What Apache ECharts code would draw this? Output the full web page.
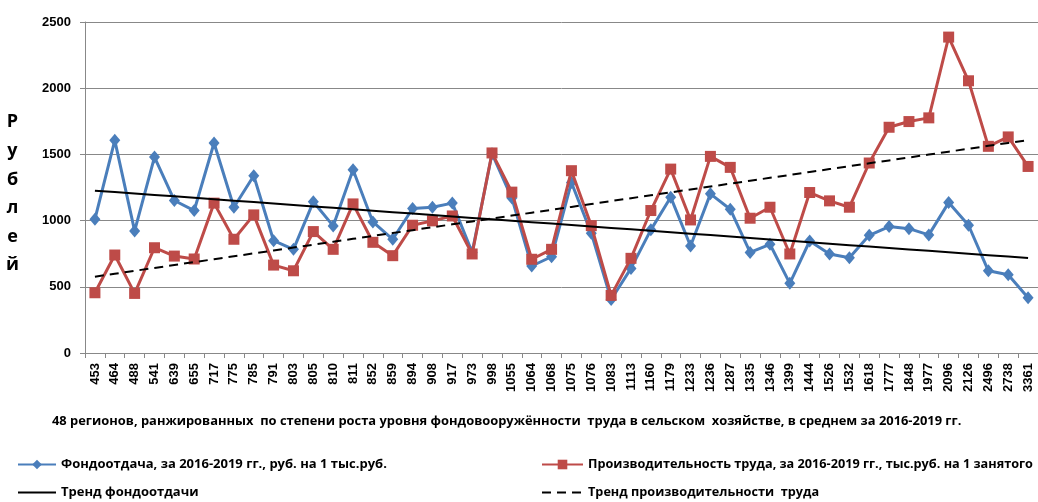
<!DOCTYPE html>
<html><head><meta charset="utf-8">
<script src="https://cdn.jsdelivr.net/npm/echarts@6/dist/echarts.min.js"></script>
<style>html,body{margin:0;padding:0;background:#fff}#c{width:1038px;height:502px}</style>
</head><body><div id="c"></div>
<script>
const categories = ['453','464','488','541','639','655','717','775','785','791','803','805','810','811','852','859','894','908','917','973','998','1055','1064','1068','1075','1076','1083','1113','1160','1179','1233','1236','1287','1335','1346','1399','1444','1526','1532','1618','1777','1848','1977','2096','2126','2496','2738','3361'];
const fondootdacha = [1011,1606,922,1480,1152,1076,1586,1101,1339,848,783,1142,960,1384,990,859,1091,1101,1132,760,1505,1170,657,727,1288,905,404,639,930,1177,808,1202,1086,760,821,526,846,748,720,889,955,939,892,1136,965,621,591,417];
const proizvod = [455,740,450,795,732,710,1132,859,1043,664,621,917,783,1126,836,735,965,998,1035,748,1511,1215,708,783,1377,962,435,715,1076,1389,1005,1485,1402,1018,1101,748,1212,1149,1101,1435,1705,1748,1776,2386,2056,1561,1632,1409];
const yTicks = [0,500,1000,1500,2000,2500];
const names = ['Фондоотдача, за 2016-2019 гг., руб. на 1 тыс.руб.','Производительность труда, за 2016-2019 гг., тыс.руб. на 1 занятого','Тренд фондоотдачи','Тренд производительности  труда'];
const xTitle = '48 регионов, ранжированных  по степени роста уровня фондовооружённости  труда в сельском  хозяйстве, в среднем за 2016-2019 гг.';
const yTitle = 'Рублей';

function trend(arr){
  const n = arr.length; let sx=0,sy=0,sxy=0,sxx=0;
  arr.forEach((v,i)=>{const x=i+1;sx+=x;sy+=v;sxy+=x*v;sxx+=x*x;});
  const b=(n*sxy-sx*sy)/(n*sxx-sx*sx), a=(sy-b*sx)/n;
  return arr.map((v,i)=>+(a+b*(i+1)).toFixed(2));
}
const chart = echarts.init(document.getElementById('c'), null, {renderer:'canvas'});
const lf = s => ({fontFamily:'Open Sans', fontWeight:'bold', fontSize:s, color:'#000'});
chart.setOption({
  animation:false,
  grid:{left:85, right:0, top:22, bottom:149, containLabel:false},
  title:{text:xTitle, left:47, top:410, textStyle:{fontFamily:'Open Sans', fontWeight:'bold', fontSize:12.9, color:'#000'}},
  graphic:[{type:'text', left:6, top:108, style:{text:yTitle.split('').join('\n'), font:'bold 18px "Open Sans"', lineHeight:28.6, fill:'#000', textAlign:'center'}}],
  legend:[
    {data:[names[0]], left:17, top:458, padding:0, itemWidth:38, itemHeight:12, itemGap:5, textStyle:lf(13)},
    {data:[names[1]], left:541, top:458, padding:0, itemWidth:41, itemHeight:12, itemGap:5, textStyle:lf(12.7)},
    {data:[{name:names[2], itemStyle:{opacity:0}}], left:17, top:486, padding:0, itemWidth:38, itemHeight:12, itemGap:5, textStyle:lf(13)},
    {data:[{name:names[3], itemStyle:{opacity:0}}], left:541, top:486, padding:0, itemWidth:41, itemHeight:12, itemGap:5, textStyle:lf(12.7)}
  ],
  xAxis:{type:'category', data:categories, boundaryGap:true,
    axisLine:{lineStyle:{color:'#888', width:1}},
    axisTick:{show:true, alignWithLabel:false, length:5, lineStyle:{color:'#888'}},
    axisLabel:{rotate:90, interval:0, margin:10, fontFamily:'Liberation Sans', fontWeight:'bold', fontSize:13, color:'#000'}},
  yAxis:{type:'value', min:yTicks[0], max:yTicks[yTicks.length-1], interval:500,
    axisLine:{show:true, lineStyle:{color:'#888', width:1}},
    axisTick:{show:true, length:5, lineStyle:{color:'#888'}},
    splitLine:{lineStyle:{color:'#888', width:1}},
    axisLabel:{margin:14, formatter:v=>String(v), fontFamily:'Liberation Sans', fontWeight:'bold', fontSize:13, color:'#000'}},
  series:[
    {name:names[0], type:'line', data:fondootdacha, symbol:'diamond', symbolSize:[11,13], showAllSymbol:true,
      lineStyle:{color:'#4A7EBB', width:3}, itemStyle:{color:'#4A7EBB'}, z:2},
    {name:names[1], type:'line', data:proizvod, symbol:'rect', symbolSize:11, showAllSymbol:true,
      lineStyle:{color:'#BE4B48', width:3}, itemStyle:{color:'#BE4B48'}, z:3},
    {name:names[2], type:'line', data:trend(fondootdacha), symbol:'none',
      lineStyle:{color:'#000', width:2}, itemStyle:{color:'#000'}, z:4},
    {name:names[3], type:'line', data:trend(proizvod), symbol:'none',
      lineStyle:{color:'#000', width:2, type:[9,6]}, itemStyle:{color:'#000'}, z:4}
  ]
});
</script></body></html>
